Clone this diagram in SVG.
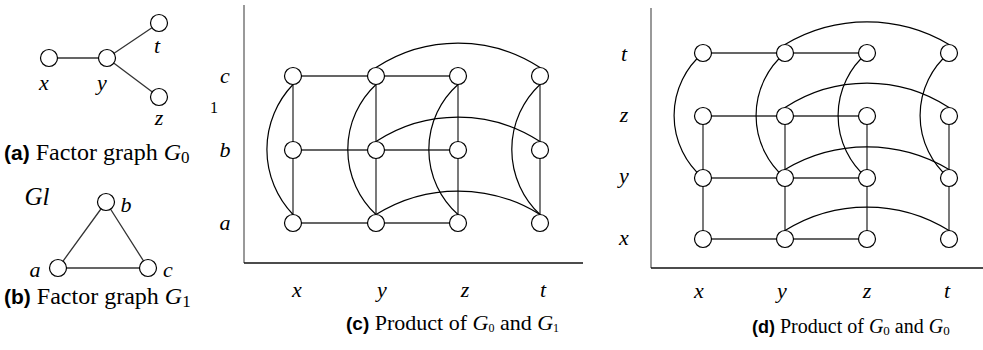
<svg xmlns="http://www.w3.org/2000/svg" width="983" height="350" viewBox="0 0 983 350">
<style>
.n{fill:#fff;stroke:#000;stroke-width:1.2}
.e{stroke:#333;stroke-width:1.3;fill:none}
.a{stroke:#000;stroke-width:1.2;fill:none}
.lb{font-family:"Liberation Serif","Times New Roman",Times,"DejaVu Serif",serif;font-style:italic;font-size:22px;fill:#000;text-anchor:middle}
.cap{font-family:"Liberation Serif","Times New Roman",Times,"DejaVu Serif",serif;fill:#000}
.bl{font-family:"Liberation Sans",Arial,"DejaVu Sans",sans-serif;font-weight:bold}
.it{font-style:italic}
.ax{stroke-width:1.5;fill:none}
</style>
<rect width="983" height="350" fill="#fff"/>
<g id="connectors">
<path class="e" d="M49,58H107M107,58L159,23M107,58L159,97"/>
<path class="e" d="M106,202L58,268H148L106,202"/>
<path class="e" d="M293,76H458M293,150H458M293,223H458M293,76V223M376,76V223M458,76V223M540,76V223"/>
<path class="a" d="M293,84.5A94 94 0 0 0 293,214.5M376,84.5A89 89 0 0 0 376,214.5M458,84.5A87 87 0 0 0 458,214.5M540,84.5A89 89 0 0 0 540,214.5"/>
<path class="a" d="M376,67.5A150 150 0 0 1 540,67.5M376,141.5A150 150 0 0 1 540,141.5M376,214.5A155 155 0 0 1 540,214.5"/>
<path class="e" d="M703,53H867M703,116H867M703,178H867M703,239H867M703,116V239M785,116V239M867,116V239M949,116V239"/>
<path class="a" d="M703,53A82 82 0 0 0 703,178M785,53A82 82 0 0 0 785,178M867,53A82 82 0 0 0 867,178M949,53A82 82 0 0 0 949,178"/>
<path class="a" d="M785,44.5A160 160 0 0 1 949,44.5M785,107.5A150 150 0 0 1 949,107.5M785,169.5A160 160 0 0 1 949,169.5M785,230.5A155 155 0 0 1 949,230.5"/>
<path class="ax" stroke="#777" d="M244,5V263"/>
<path class="ax" stroke="#111" d="M244,263H583"/>
<path class="ax" stroke="#777" d="M651,8V268"/>
<path class="ax" stroke="#111" d="M651,268H983"/>
</g>
<g id="panel-a">
<circle class="n" cx="49" cy="58" r="8.5"/>
<circle class="n" cx="107" cy="58" r="8.5"/>
<circle class="n" cx="159" cy="23" r="8.5"/>
<circle class="n" cx="159" cy="97" r="8.5"/>
<text class="lb" x="44" y="90">x</text>
<text class="lb" x="102" y="90">y</text>
<text class="lb" x="157" y="53">t</text>
<text class="lb" x="159" y="125">z</text>
<text class="cap" x="4" y="160" font-size="24"><tspan class="bl" font-size="21">(a)</tspan> Factor graph <tspan class="it">G</tspan><tspan font-size="17" dy="3">0</tspan></text>
</g>
<g id="panel-b">
<circle class="n" cx="106" cy="202" r="8.5"/>
<circle class="n" cx="58" cy="268" r="8.5"/>
<circle class="n" cx="148" cy="268" r="8.5"/>
<text class="lb" x="126" y="212">b</text>
<text class="lb" x="35" y="277">a</text>
<text class="lb" x="168" y="277">c</text>
<text class="lb" x="37" y="205" style="font-size:25px">Gl</text>
<text class="cap" x="4" y="304" font-size="24"><tspan class="bl" font-size="21">(b)</tspan> Factor graph <tspan class="it">G</tspan><tspan font-size="17" dy="3">1</tspan></text>
</g>
<g id="panel-c">
<g id="c-nodes">
<circle class="n" cx="293" cy="76" r="8.5"/><circle class="n" cx="376" cy="76" r="8.5"/><circle class="n" cx="458" cy="76" r="8.5"/><circle class="n" cx="540" cy="76" r="8.5"/>
<circle class="n" cx="293" cy="150" r="8.5"/><circle class="n" cx="376" cy="150" r="8.5"/><circle class="n" cx="458" cy="150" r="8.5"/><circle class="n" cx="540" cy="150" r="8.5"/>
<circle class="n" cx="293" cy="223" r="8.5"/><circle class="n" cx="376" cy="223" r="8.5"/><circle class="n" cx="458" cy="223" r="8.5"/><circle class="n" cx="540" cy="223" r="8.5"/>
</g>
<text class="lb" x="225" y="83">c</text>
<text class="lb" x="225" y="157">b</text>
<text class="lb" x="225" y="230">a</text>
<text x="210" y="113" font-family="Liberation Serif,Times New Roman,DejaVu Serif,serif" font-size="16">1</text>
<text class="lb" x="297" y="297">x</text>
<text class="lb" x="382" y="297">y</text>
<text class="lb" x="465" y="297">z</text>
<text class="lb" x="543" y="297">t</text>
<text class="cap" x="346" y="330" font-size="22"><tspan class="bl" font-size="19">(c)</tspan> Product of <tspan class="it">G</tspan><tspan font-size="12" dy="2">0</tspan><tspan dy="-2"> and </tspan><tspan class="it">G</tspan><tspan font-size="12" dy="2">1</tspan></text>
</g>
<g id="panel-d">
<g id="d-nodes">
<circle class="n" cx="703" cy="53" r="8.5"/><circle class="n" cx="785" cy="53" r="8.5"/><circle class="n" cx="867" cy="53" r="8.5"/><circle class="n" cx="949" cy="53" r="8.5"/>
<circle class="n" cx="703" cy="116" r="8.5"/><circle class="n" cx="785" cy="116" r="8.5"/><circle class="n" cx="867" cy="116" r="8.5"/><circle class="n" cx="949" cy="116" r="8.5"/>
<circle class="n" cx="703" cy="178" r="8.5"/><circle class="n" cx="785" cy="178" r="8.5"/><circle class="n" cx="867" cy="178" r="8.5"/><circle class="n" cx="949" cy="178" r="8.5"/>
<circle class="n" cx="703" cy="239" r="8.5"/><circle class="n" cx="785" cy="239" r="8.5"/><circle class="n" cx="867" cy="239" r="8.5"/><circle class="n" cx="949" cy="239" r="8.5"/>
</g>
<text class="lb" x="624" y="61">t</text>
<text class="lb" x="624" y="122">z</text>
<text class="lb" x="624" y="183">y</text>
<text class="lb" x="624" y="245">x</text>
<text class="lb" x="699" y="298">x</text>
<text class="lb" x="782" y="298">y</text>
<text class="lb" x="867" y="298">z</text>
<text class="lb" x="947" y="298">t</text>
<text class="cap" x="752" y="333" font-size="20"><tspan class="bl" font-size="18">(d)</tspan> Product of <tspan class="it">G</tspan><tspan font-size="13" dy="2">0</tspan><tspan dy="-2"> and </tspan><tspan class="it">G</tspan><tspan font-size="13" dy="2">0</tspan></text>
</g>
</svg>
